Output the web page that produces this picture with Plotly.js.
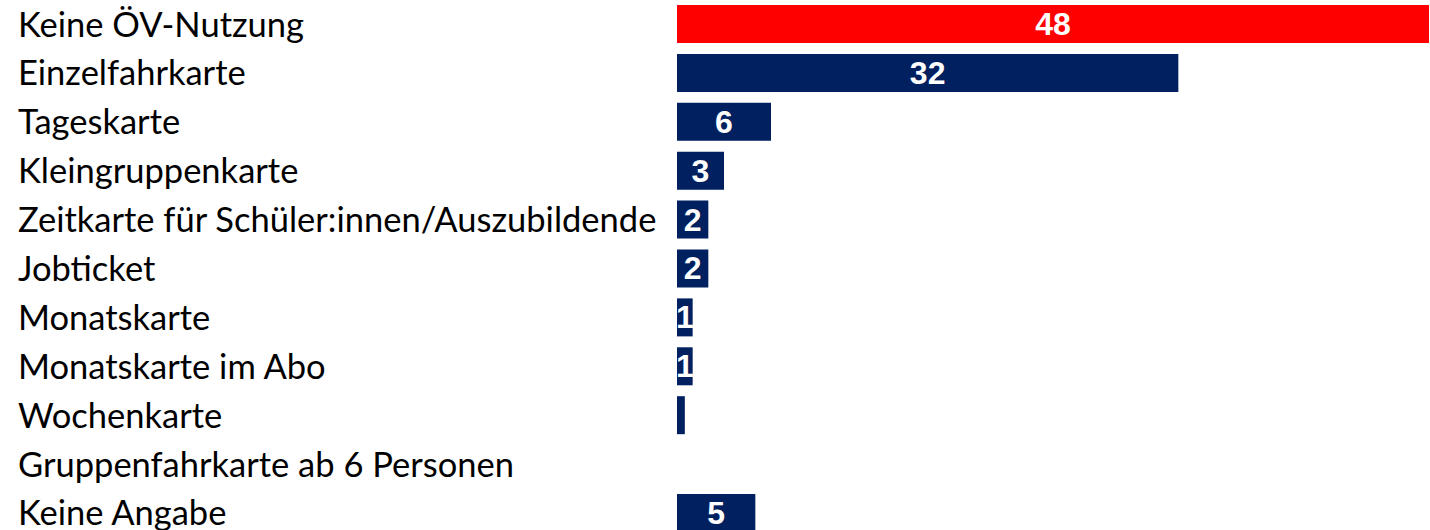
<!DOCTYPE html>
<html>
<head>
<meta charset="utf-8">
<script src="https://cdn.plot.ly/plotly-3.0.1.min.js"></script>
<style>html,body{margin:0;padding:0;background:#fff;}#chart{width:1430px;height:530px;}</style>
</head>
<body>
<div id="chart"></div>
<script>
const categories = [
  "Keine ÖV-Nutzung",
  "Einzelfahrkarte",
  "Tageskarte",
  "Kleingruppenkarte",
  "Zeitkarte für Schüler:innen/Auszubildende",
  "Jobticket",
  "Monatskarte",
  "Monatskarte im Abo",
  "Wochenkarte",
  "Gruppenfahrkarte ab 6 Personen",
  "Keine Angabe"
];
const values = [48, 32, 6, 3, 2, 2, 1, 1, 0.5, 0, 5];
const valueLabels = ["48", "32", "6", "3", "2", "2", "1", "1", "", "", "5"];
const barColors = ["#FF0000", "#002060", "#002060", "#002060", "#002060", "#002060", "#002060", "#002060", "#002060", "#002060", "#002060"];

const W = 1430, H = 530, L = 677, R = 1;
const trace = {
  type: "bar",
  orientation: "h",
  x: values,
  y: categories,
  text: valueLabels,
  textposition: "inside",
  insidetextanchor: "middle",
  constraintext: "none",
  textangle: 0,
  textfont: {family: "Liberation Sans, Arial, sans-serif", size: 32, color: "#FFFFFF", weight: "bold"},
  marker: {color: barColors},
  hoverinfo: "none"
};

const annotations = categories.map(c => ({
  text: c,
  x: (16 - L) / (W - L - R),
  xref: "paper",
  xanchor: "left",
  y: c,
  yref: "y",
  yanchor: "middle",
  yshift: 1,
  showarrow: false,
  font: {family: "Lato, Carlito, Calibri, sans-serif", size: 34.5, color: "#000000"}
}));

const layout = {
  width: W, height: H,
  margin: {l: L, r: R, t: 0, b: 0, pad: 0},
  paper_bgcolor: "#FFFFFF",
  plot_bgcolor: "#FFFFFF",
  showlegend: false,
  bargap: 0.223,
  xaxis: {visible: false, range: [0, 48], fixedrange: true},
  yaxis: {type: "category", range: [10.348, -0.491], showticklabels: false, showgrid: false, zeroline: false, showline: false, ticks: "", fixedrange: true},
  annotations: annotations,
  hovermode: false
};

Plotly.newPlot("chart", [trace], layout, {displayModeBar: false, staticPlot: true});
</script>
</body>
</html>
